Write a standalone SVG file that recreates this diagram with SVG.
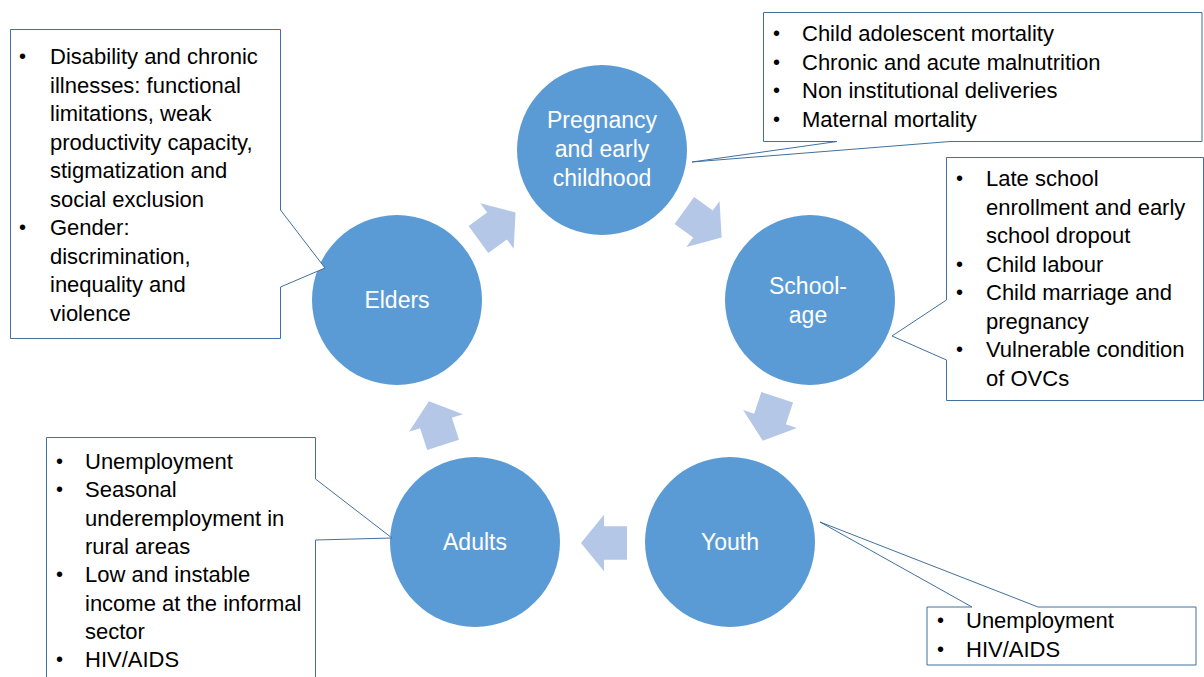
<svg xmlns="http://www.w3.org/2000/svg" width="1204" height="677" viewBox="0 0 1204 677">
<style>
.bg{fill:#ffffff}
.node{fill:#5B9BD5}
.nlabel{font-family:"Liberation Sans",Arial,sans-serif;font-size:23px;fill:#ffffff;text-anchor:middle}
.arrow{fill:#B4C7E7}
.callout{fill:#ffffff;stroke:#41719C;stroke-width:1}
.ct{font-family:"Liberation Sans",Arial,sans-serif;font-size:22px;fill:#000000}
.bl{font-family:"Liberation Sans",Arial,sans-serif;font-size:20px;fill:#000000}
</style>
<defs>
<polygon id="blk" points="-23,-16.7 0,-16.7 0,-28.3 23,0 0,28.3 0,16.7 -23,16.7"/>
</defs>
<rect class="bg" x="0" y="0" width="1204" height="677"/>

<g id="connectors">
<use href="#blk" class="arrow" transform="translate(497,226) rotate(-36.2)"/>
<use href="#blk" class="arrow" transform="translate(703,224) rotate(35.8)"/>
<use href="#blk" class="arrow" transform="translate(770,419) rotate(108.3)"/>
<use href="#blk" class="arrow" transform="translate(604,543) rotate(180)"/>
<use href="#blk" class="arrow" transform="translate(436,423) rotate(-108)"/>
</g>

<g id="node-pregnancy">
<circle class="node" cx="602" cy="150" r="85"/>
<text class="nlabel"><tspan x="602" y="128">Pregnancy</tspan><tspan x="602" y="157">and early</tspan><tspan x="602" y="186">childhood</tspan></text>
</g>
<g id="node-school">
<circle class="node" cx="810" cy="300" r="85"/>
<text class="nlabel"><tspan x="808" y="294">School-</tspan><tspan x="808" y="323">age</tspan></text>
</g>
<g id="node-youth">
<circle class="node" cx="730" cy="542" r="85"/>
<text class="nlabel" x="730" y="550">Youth</text>
</g>
<g id="node-adults">
<circle class="node" cx="475" cy="542" r="85"/>
<text class="nlabel" x="475" y="550">Adults</text>
</g>
<g id="node-elders">
<circle class="node" cx="397" cy="300" r="85"/>
<text class="nlabel" x="397" y="308">Elders</text>
</g>

<g id="callout-elders">
<path class="callout" d="M10.5,29.5 H280.5 V210 L325,268 L280.5,287 V338.5 H10.5 Z"/>
<text class="bl"><tspan x="19" y="63">•</tspan><tspan x="19" y="234">•</tspan></text>
<text class="ct">
<tspan x="50" y="64">Disability and chronic</tspan>
<tspan x="50" y="92.5">illnesses: functional</tspan>
<tspan x="50" y="121">limitations, weak</tspan>
<tspan x="50" y="149.5">productivity capacity,</tspan>
<tspan x="50" y="178">stigmatization and</tspan>
<tspan x="50" y="206.5">social exclusion</tspan>
<tspan x="50" y="235">Gender:</tspan>
<tspan x="50" y="263.5">discrimination,</tspan>
<tspan x="50" y="292">inequality and</tspan>
<tspan x="50" y="320.5">violence</tspan>
</text>
</g>

<g id="callout-pregnancy">
<path class="callout" d="M763.5,12.5 H1202 V141.5 H950 L692,162 L837,141.5 H763.5 Z"/>
<text class="bl"><tspan x="773" y="40">•</tspan><tspan x="773" y="68.5">•</tspan><tspan x="773" y="97">•</tspan><tspan x="773" y="125.5">•</tspan></text>
<text class="ct">
<tspan x="802" y="41">Child adolescent mortality</tspan>
<tspan x="802" y="69.5">Chronic and acute malnutrition</tspan>
<tspan x="802" y="98">Non institutional deliveries</tspan>
<tspan x="802" y="126.5">Maternal mortality</tspan>
</text>
</g>

<g id="callout-school">
<path class="callout" d="M946.5,157.5 H1203.5 V400.5 H946.5 V360 L892,336 L946.5,300 Z"/>
<text class="bl"><tspan x="956" y="185">•</tspan><tspan x="956" y="270.5">•</tspan><tspan x="956" y="299">•</tspan><tspan x="956" y="356">•</tspan></text>
<text class="ct">
<tspan x="986" y="186">Late school</tspan>
<tspan x="986" y="214.5">enrollment and early</tspan>
<tspan x="986" y="243">school dropout</tspan>
<tspan x="986" y="271.5">Child labour</tspan>
<tspan x="986" y="300">Child marriage and</tspan>
<tspan x="986" y="328.5">pregnancy</tspan>
<tspan x="986" y="357">Vulnerable condition</tspan>
<tspan x="986" y="385.5">of OVCs</tspan>
</text>
</g>

<g id="callout-adults">
<path class="callout" d="M46.5,437.5 H315.5 V479 L392,538 L315.5,540 V690 H46.5 Z"/>
<text class="bl"><tspan x="56" y="468">•</tspan><tspan x="56" y="496">•</tspan><tspan x="56" y="581">•</tspan><tspan x="56" y="666">•</tspan></text>
<text class="ct">
<tspan x="85" y="469">Unemployment</tspan>
<tspan x="85" y="497">Seasonal</tspan>
<tspan x="85" y="525.5">underemployment in</tspan>
<tspan x="85" y="554">rural areas</tspan>
<tspan x="85" y="582">Low and instable</tspan>
<tspan x="85" y="610.5">income at the informal</tspan>
<tspan x="85" y="639">sector</tspan>
<tspan x="85" y="667">HIV/AIDS</tspan>
</text>
</g>

<g id="callout-youth">
<path class="callout" d="M927,607 H972 L820,522 L1038,607 H1196 V665 H927 Z"/>
<text class="bl"><tspan x="937" y="627">•</tspan><tspan x="937" y="655.5">•</tspan></text>
<text class="ct">
<tspan x="966" y="628">Unemployment</tspan>
<tspan x="966" y="656.5">HIV/AIDS</tspan>
</text>
</g>
</svg>
